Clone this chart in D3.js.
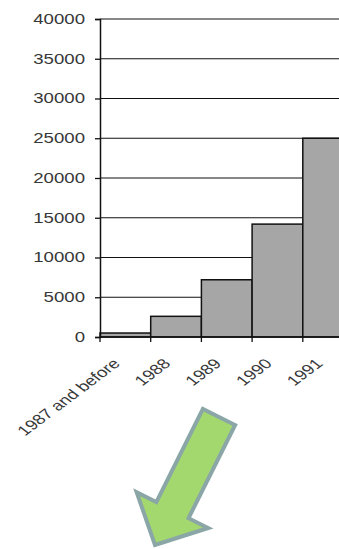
<!DOCTYPE html>
<html>
<head>
<meta charset="utf-8">
<script src="https://cdn.jsdelivr.net/npm/d3@7"></script>
<style>
  body { margin: 0; background: #fff; }
  svg { display: block; }
  .lbl { font-family: Arial, "Liberation Sans", sans-serif; font-size: 14px; fill: #383838; }
</style>
</head>
<body>
<div id="chart"></div>
<script>
const categories = ["1987 and before", "1988", "1989", "1990", "1991"];
const values = [500, 2600, 7200, 14200, 25000];
const yTicks = [0, 5000, 10000, 15000, 20000, 25000, 30000, 35000, 40000];

const W = 339, H = 549;
const plotLeft = 100, plotBottom = 337, plotTop = 19;
const stretch = 1.33; // the source picture is wider than tall text would be

const svg = d3.select("#chart").append("svg")
    .attr("width", W)
    .attr("height", H);

const x = d3.scaleBand()
    .domain(categories)
    .range([plotLeft, plotLeft + 5 * 50.7])
    .padding(0);

const y = d3.scaleLinear()
    .domain([0, 40000])
    .range([plotBottom, plotTop]);

// gridlines (bars cover them)
svg.append("g")
    .selectAll("line")
    .data(yTicks.slice(1))
    .join("line")
    .attr("x1", plotLeft)
    .attr("x2", W)
    .attr("y1", d => y(d))
    .attr("y2", d => y(d))
    .attr("stroke", "#111")
    .attr("stroke-width", 1.2);

// bars
svg.append("g")
    .selectAll("rect")
    .data(values)
    .join("rect")
    .attr("x", (d, i) => x(categories[i]))
    .attr("y", d => y(d))
    .attr("width", x.bandwidth())
    .attr("height", d => plotBottom - y(d))
    .attr("fill", "#a6a6a6")
    .attr("stroke", "#111")
    .attr("stroke-width", 1.5);

// y axis
const yAxis = svg.append("g")
    .attr("transform", `translate(${plotLeft},0)`)
    .call(d3.axisLeft(y).tickValues(yTicks).tickFormat(d3.format("d")).tickSize(5).tickPadding(10));
yAxis.attr("font-family", null).attr("font-size", null);
yAxis.select(".domain").attr("stroke", "#111").attr("stroke-width", 1.5);
yAxis.selectAll(".tick line").attr("stroke", "#111").attr("stroke-width", 1.3);
yAxis.selectAll(".tick text")
    .attr("class", "lbl")
    .attr("fill", null)
    .each(function() {
      const len = this.getComputedTextLength();
      d3.select(this).attr("textLength", len * stretch).attr("lengthAdjust", "spacingAndGlyphs");
    });

// x axis: ticks at band boundaries
const xAxis = svg.append("g")
    .attr("transform", `translate(0,${plotBottom})`);
xAxis.append("line")
    .attr("x1", plotLeft).attr("x2", W)
    .attr("stroke", "#111").attr("stroke-width", 1.5);
xAxis.selectAll("line.tk")
    .data(categories)
    .join("line")
    .attr("class", "tk")
    .attr("x1", d => x(d)).attr("x2", d => x(d))
    .attr("y1", 0).attr("y2", 5)
    .attr("stroke", "#111").attr("stroke-width", 1.3);
xAxis.selectAll("g.xl")
    .data(categories)
    .join("g")
    .attr("class", "xl")
    .attr("transform", d => `translate(${x(d) + x.bandwidth() / 2 - 9},${24}) scale(${stretch},1) rotate(-45)`)
    .append("text")
    .attr("class", "lbl")
    .attr("text-anchor", "end")
    .attr("dy", "0.35em")
    .text(d => d);

// decorative arrow pointing down-left
function arrowPoints(tail, tip, shaftW, headW, headL) {
  const dx = tip[0] - tail[0], dy = tip[1] - tail[1];
  const len = Math.hypot(dx, dy);
  const ux = dx / len, uy = dy / len;
  const px = -uy, py = ux;
  const bx = tip[0] - ux * headL, by = tip[1] - uy * headL;
  return [
    [tail[0] + px * shaftW / 2, tail[1] + py * shaftW / 2],
    [bx + px * shaftW / 2, by + py * shaftW / 2],
    [bx + px * headW / 2, by + py * headW / 2],
    tip,
    [bx - px * headW / 2, by - py * headW / 2],
    [bx - px * shaftW / 2, by - py * shaftW / 2],
    [tail[0] - px * shaftW / 2, tail[1] - py * shaftW / 2]
  ];
}
svg.append("path")
    .attr("d", d3.line()(arrowPoints([219, 417], [155, 545], 36, 80, 39)) + "Z")
    .attr("fill", "#a3d86f")
    .attr("stroke", "#8ba6a6")
    .attr("stroke-width", 4)
    .attr("stroke-linejoin", "miter");
</script>
</body>
</html>
